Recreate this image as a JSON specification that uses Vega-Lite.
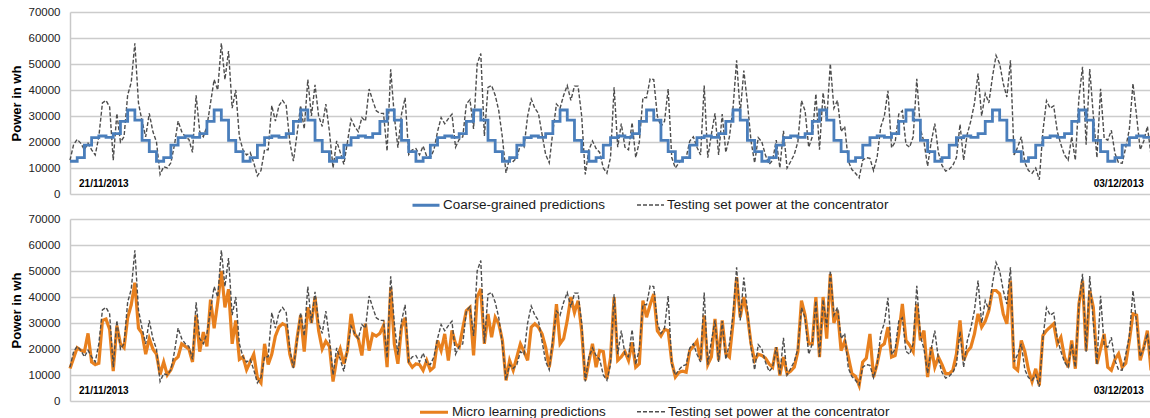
{
  "$schema": "https://vega.github.io/schema/vega-lite/v6.json",
  "padding": {"left": 10, "top": 6, "right": 0, "bottom": 0},
  "bounds": "flush",
  "spacing": 25,
  "background": "white",
  "config": {
    "view": {"stroke": null},
    "font": "Liberation Sans",
    "axisY": {
      "titleFontSize": 13, "titleFontWeight": "bold", "titleColor": "#000000", "titlePadding": 5,
      "labelFontSize": 11.5, "labelColor": "#222222", "labelPadding": 10, "ticks": false,
      "domain": true, "domainColor": "#c8c8c8", "domainWidth": 1.5,
      "grid": true, "gridColor": "#cccccc", "gridWidth": 1.4,
      "values": [0, 10000, 20000, 30000, 40000, 50000, 60000, 70000], "format": "d"
    }
  },
  "datasets": {
    "power": [
      {"t":0,"test":13000,"coarse":12600,"micro":12500},
      {"t":1,"test":19000,"coarse":12600,"micro":16500},
      {"t":2,"test":21000,"coarse":14000,"micro":20500},
      {"t":3,"test":19500,"coarse":14000,"micro":19500},
      {"t":4,"test":17000,"coarse":18800,"micro":19000},
      {"t":5,"test":19500,"coarse":18800,"micro":26000},
      {"t":6,"test":17000,"coarse":21700,"micro":15000},
      {"t":7,"test":15000,"coarse":21700,"micro":14000},
      {"t":8,"test":22000,"coarse":22300,"micro":14500},
      {"t":9,"test":35000,"coarse":22300,"micro":31000},
      {"t":10,"test":36000,"coarse":21800,"micro":31500},
      {"t":11,"test":33500,"coarse":21800,"micro":27500},
      {"t":12,"test":13000,"coarse":23200,"micro":11500},
      {"t":13,"test":31000,"coarse":23200,"micro":29000},
      {"t":14,"test":20000,"coarse":27900,"micro":22000},
      {"t":15,"test":22000,"coarse":27900,"micro":20500},
      {"t":16,"test":38000,"coarse":32300,"micro":32000},
      {"t":17,"test":43000,"coarse":32300,"micro":37000},
      {"t":18,"test":58000,"coarse":28400,"micro":45500},
      {"t":19,"test":35000,"coarse":28400,"micro":28000},
      {"t":20,"test":28000,"coarse":20600,"micro":26000},
      {"t":21,"test":22000,"coarse":20600,"micro":18000},
      {"t":22,"test":31000,"coarse":16300,"micro":24000},
      {"t":23,"test":24000,"coarse":16300,"micro":20000},
      {"t":24,"test":20000,"coarse":12600,"micro":18000},
      {"t":25,"test":7500,"coarse":12600,"micro":10200},
      {"t":26,"test":10500,"coarse":14000,"micro":15000},
      {"t":27,"test":10000,"coarse":14000,"micro":10000},
      {"t":28,"test":12000,"coarse":18800,"micro":12000},
      {"t":29,"test":19000,"coarse":18800,"micro":15700},
      {"t":30,"test":28000,"coarse":21700,"micro":17000},
      {"t":31,"test":24000,"coarse":21700,"micro":22000},
      {"t":32,"test":22000,"coarse":22300,"micro":21000},
      {"t":33,"test":21000,"coarse":22300,"micro":20000},
      {"t":34,"test":16000,"coarse":21800,"micro":15000},
      {"t":35,"test":38000,"coarse":21800,"micro":33000},
      {"t":36,"test":24000,"coarse":23200,"micro":19000},
      {"t":37,"test":22000,"coarse":23200,"micro":26500},
      {"t":38,"test":26000,"coarse":27900,"micro":21000},
      {"t":39,"test":35000,"coarse":27900,"micro":39000},
      {"t":40,"test":44000,"coarse":32300,"micro":28000},
      {"t":41,"test":40000,"coarse":32300,"micro":38000},
      {"t":42,"test":58000,"coarse":28400,"micro":50000},
      {"t":43,"test":44000,"coarse":28400,"micro":36000},
      {"t":44,"test":55000,"coarse":20600,"micro":43000},
      {"t":45,"test":33000,"coarse":20600,"micro":22000},
      {"t":46,"test":40000,"coarse":16300,"micro":31000},
      {"t":47,"test":22000,"coarse":16300,"micro":16000},
      {"t":48,"test":17000,"coarse":12600,"micro":17000},
      {"t":49,"test":15000,"coarse":12600,"micro":12000},
      {"t":50,"test":16000,"coarse":14000,"micro":15000},
      {"t":51,"test":12000,"coarse":14000,"micro":18000},
      {"t":52,"test":7000,"coarse":18800,"micro":9000},
      {"t":53,"test":9000,"coarse":18800,"micro":7000},
      {"t":54,"test":17000,"coarse":21700,"micro":22000},
      {"t":55,"test":17000,"coarse":21700,"micro":14000},
      {"t":56,"test":34000,"coarse":22300,"micro":18000},
      {"t":57,"test":28000,"coarse":22300,"micro":25000},
      {"t":58,"test":34000,"coarse":21800,"micro":28500},
      {"t":59,"test":36000,"coarse":21800,"micro":29700},
      {"t":60,"test":34000,"coarse":23200,"micro":29000},
      {"t":61,"test":20000,"coarse":23200,"micro":18000},
      {"t":62,"test":12600,"coarse":27900,"micro":13000},
      {"t":63,"test":23000,"coarse":27900,"micro":24000},
      {"t":64,"test":34000,"coarse":32300,"micro":33000},
      {"t":65,"test":25000,"coarse":32300,"micro":19000},
      {"t":66,"test":44000,"coarse":28400,"micro":36000},
      {"t":67,"test":30000,"coarse":28400,"micro":30000},
      {"t":68,"test":42000,"coarse":20600,"micro":40000},
      {"t":69,"test":30000,"coarse":20600,"micro":27000},
      {"t":70,"test":26000,"coarse":16300,"micro":20000},
      {"t":71,"test":34600,"coarse":16300,"micro":23000},
      {"t":72,"test":24000,"coarse":12600,"micro":21000},
      {"t":73,"test":10000,"coarse":12600,"micro":7500},
      {"t":74,"test":20400,"coarse":14000,"micro":16000},
      {"t":75,"test":16000,"coarse":14000,"micro":20000},
      {"t":76,"test":11400,"coarse":18800,"micro":14300},
      {"t":77,"test":20000,"coarse":18800,"micro":19400},
      {"t":78,"test":28800,"coarse":21700,"micro":33500},
      {"t":79,"test":26000,"coarse":21700,"micro":25800},
      {"t":80,"test":24000,"coarse":22300,"micro":24000},
      {"t":81,"test":29400,"coarse":22300,"micro":17500},
      {"t":82,"test":28000,"coarse":21800,"micro":29700},
      {"t":83,"test":40400,"coarse":21800,"micro":19400},
      {"t":84,"test":36000,"coarse":23200,"micro":25800},
      {"t":85,"test":32000,"coarse":23200,"micro":25000},
      {"t":86,"test":31000,"coarse":27900,"micro":26000},
      {"t":87,"test":31000,"coarse":27900,"micro":29000},
      {"t":88,"test":16500,"coarse":32300,"micro":13000},
      {"t":89,"test":48000,"coarse":32300,"micro":43700},
      {"t":90,"test":30000,"coarse":28400,"micro":22000},
      {"t":91,"test":17800,"coarse":28400,"micro":14300},
      {"t":92,"test":30700,"coarse":20600,"micro":28400},
      {"t":93,"test":37000,"coarse":20600,"micro":32000},
      {"t":94,"test":15200,"coarse":16300,"micro":15000},
      {"t":95,"test":17000,"coarse":16300,"micro":13000},
      {"t":96,"test":17500,"coarse":12600,"micro":14300},
      {"t":97,"test":15000,"coarse":12600,"micro":14000},
      {"t":98,"test":18400,"coarse":14000,"micro":11800},
      {"t":99,"test":14500,"coarse":14000,"micro":15600},
      {"t":100,"test":14000,"coarse":18800,"micro":11800},
      {"t":101,"test":17000,"coarse":18800,"micro":13000},
      {"t":102,"test":24000,"coarse":21700,"micro":23300},
      {"t":103,"test":29400,"coarse":21700,"micro":19400},
      {"t":104,"test":27000,"coarse":22300,"micro":25800},
      {"t":105,"test":29000,"coarse":22300,"micro":15600},
      {"t":106,"test":30700,"coarse":21800,"micro":27100},
      {"t":107,"test":18000,"coarse":21800,"micro":22000},
      {"t":108,"test":21000,"coarse":23200,"micro":20700},
      {"t":109,"test":22000,"coarse":23200,"micro":28000},
      {"t":110,"test":34600,"coarse":27900,"micro":34800},
      {"t":111,"test":36300,"coarse":27900,"micro":36000},
      {"t":112,"test":25000,"coarse":32300,"micro":17500},
      {"t":113,"test":50000,"coarse":32300,"micro":40000},
      {"t":114,"test":54000,"coarse":28400,"micro":43100},
      {"t":115,"test":22300,"coarse":28400,"micro":22000},
      {"t":116,"test":41000,"coarse":20600,"micro":33500},
      {"t":117,"test":41700,"coarse":20600,"micro":24500},
      {"t":118,"test":38000,"coarse":16300,"micro":32200},
      {"t":119,"test":32000,"coarse":16300,"micro":29700},
      {"t":120,"test":21700,"coarse":12600,"micro":23300},
      {"t":121,"test":8100,"coarse":12600,"micro":7900},
      {"t":122,"test":14000,"coarse":14000,"micro":15600},
      {"t":123,"test":12500,"coarse":14000,"micro":11800},
      {"t":124,"test":14000,"coarse":18800,"micro":16900},
      {"t":125,"test":19000,"coarse":18800,"micro":22000},
      {"t":126,"test":18000,"coarse":21700,"micro":19000},
      {"t":127,"test":30000,"coarse":21700,"micro":15600},
      {"t":128,"test":36500,"coarse":22300,"micro":28400},
      {"t":129,"test":33000,"coarse":22300,"micro":29700},
      {"t":130,"test":31000,"coarse":21800,"micro":28400},
      {"t":131,"test":23000,"coarse":21800,"micro":25800},
      {"t":132,"test":15200,"coarse":23200,"micro":20700},
      {"t":133,"test":12000,"coarse":23200,"micro":13000},
      {"t":134,"test":24000,"coarse":27900,"micro":22000},
      {"t":135,"test":34600,"coarse":27900,"micro":37300},
      {"t":136,"test":33000,"coarse":32300,"micro":22000},
      {"t":137,"test":38000,"coarse":32300,"micro":24000},
      {"t":138,"test":41700,"coarse":28400,"micro":31000},
      {"t":139,"test":36000,"coarse":28400,"micro":40000},
      {"t":140,"test":41500,"coarse":20600,"micro":34000},
      {"t":141,"test":41500,"coarse":20600,"micro":38600},
      {"t":142,"test":30000,"coarse":16300,"micro":27000},
      {"t":143,"test":7500,"coarse":16300,"micro":8000},
      {"t":144,"test":17000,"coarse":12600,"micro":15000},
      {"t":145,"test":20400,"coarse":12600,"micro":22000},
      {"t":146,"test":17500,"coarse":14000,"micro":13000},
      {"t":147,"test":16000,"coarse":14000,"micro":19400},
      {"t":148,"test":10000,"coarse":18800,"micro":19000},
      {"t":149,"test":8000,"coarse":18800,"micro":8600},
      {"t":150,"test":14000,"coarse":21700,"micro":16500},
      {"t":151,"test":41000,"coarse":21700,"micro":40000},
      {"t":152,"test":18000,"coarse":22300,"micro":15600},
      {"t":153,"test":27100,"coarse":22300,"micro":17000},
      {"t":154,"test":18000,"coarse":21800,"micro":19000},
      {"t":155,"test":17000,"coarse":21800,"micro":15600},
      {"t":156,"test":27500,"coarse":23200,"micro":22600},
      {"t":157,"test":14000,"coarse":23200,"micro":13000},
      {"t":158,"test":20000,"coarse":27900,"micro":14300},
      {"t":159,"test":37100,"coarse":27900,"micro":38600},
      {"t":160,"test":37000,"coarse":32300,"micro":32200},
      {"t":161,"test":44300,"coarse":32300,"micro":37000},
      {"t":162,"test":44000,"coarse":28400,"micro":41200},
      {"t":163,"test":30000,"coarse":28400,"micro":27000},
      {"t":164,"test":26000,"coarse":20600,"micro":25000},
      {"t":165,"test":28000,"coarse":20600,"micro":27500},
      {"t":166,"test":40400,"coarse":16300,"micro":27100},
      {"t":167,"test":14000,"coarse":16300,"micro":15000},
      {"t":168,"test":10000,"coarse":12600,"micro":9200},
      {"t":169,"test":12000,"coarse":12600,"micro":11000},
      {"t":170,"test":13500,"coarse":14000,"micro":11500},
      {"t":171,"test":14000,"coarse":14000,"micro":11100},
      {"t":172,"test":20400,"coarse":18800,"micro":19400},
      {"t":173,"test":22000,"coarse":18800,"micro":21000},
      {"t":174,"test":18000,"coarse":21700,"micro":23000},
      {"t":175,"test":15000,"coarse":21700,"micro":15600},
      {"t":176,"test":41700,"coarse":22300,"micro":32900},
      {"t":177,"test":14000,"coarse":22300,"micro":14000},
      {"t":178,"test":23000,"coarse":21800,"micro":17000},
      {"t":179,"test":31000,"coarse":21800,"micro":31600},
      {"t":180,"test":15000,"coarse":23200,"micro":15600},
      {"t":181,"test":30700,"coarse":23200,"micro":31000},
      {"t":182,"test":16000,"coarse":27900,"micro":18200},
      {"t":183,"test":22000,"coarse":27900,"micro":16900},
      {"t":184,"test":33000,"coarse":32300,"micro":30000},
      {"t":185,"test":51400,"coarse":32300,"micro":47600},
      {"t":186,"test":31000,"coarse":28400,"micro":32200},
      {"t":187,"test":47500,"coarse":28400,"micro":40000},
      {"t":188,"test":35000,"coarse":20600,"micro":33000},
      {"t":189,"test":20400,"coarse":20600,"micro":22000},
      {"t":190,"test":12000,"coarse":16300,"micro":15600},
      {"t":191,"test":21700,"coarse":16300,"micro":18000},
      {"t":192,"test":20000,"coarse":12600,"micro":17500},
      {"t":193,"test":15000,"coarse":12600,"micro":16500},
      {"t":194,"test":11400,"coarse":14000,"micro":14300},
      {"t":195,"test":13000,"coarse":14000,"micro":13000},
      {"t":196,"test":20700,"coarse":18800,"micro":20700},
      {"t":197,"test":10000,"coarse":18800,"micro":9800},
      {"t":198,"test":24300,"coarse":21700,"micro":16900},
      {"t":199,"test":10000,"coarse":21700,"micro":10500},
      {"t":200,"test":12500,"coarse":22300,"micro":11500},
      {"t":201,"test":15200,"coarse":22300,"micro":13000},
      {"t":202,"test":20000,"coarse":21800,"micro":19000},
      {"t":203,"test":35900,"coarse":21800,"micro":38600},
      {"t":204,"test":32000,"coarse":23200,"micro":33000},
      {"t":205,"test":18000,"coarse":23200,"micro":22000},
      {"t":206,"test":22000,"coarse":27900,"micro":22000},
      {"t":207,"test":38500,"coarse":27900,"micro":40000},
      {"t":208,"test":17000,"coarse":32300,"micro":16900},
      {"t":209,"test":39000,"coarse":32300,"micro":40000},
      {"t":210,"test":28400,"coarse":28400,"micro":24000},
      {"t":211,"test":50100,"coarse":28400,"micro":48800},
      {"t":212,"test":33000,"coarse":20600,"micro":30000},
      {"t":213,"test":36000,"coarse":20600,"micro":34800},
      {"t":214,"test":24000,"coarse":16300,"micro":19400},
      {"t":215,"test":26000,"coarse":16300,"micro":23000},
      {"t":216,"test":12600,"coarse":12600,"micro":17000},
      {"t":217,"test":9400,"coarse":12600,"micro":10500},
      {"t":218,"test":8000,"coarse":14000,"micro":9500},
      {"t":219,"test":6200,"coarse":14000,"micro":6000},
      {"t":220,"test":13000,"coarse":18800,"micro":15000},
      {"t":221,"test":14000,"coarse":18800,"micro":16500},
      {"t":222,"test":13700,"coarse":21700,"micro":25800},
      {"t":223,"test":9000,"coarse":21700,"micro":9200},
      {"t":224,"test":14300,"coarse":22300,"micro":14300},
      {"t":225,"test":25800,"coarse":22300,"micro":21000},
      {"t":226,"test":30000,"coarse":21800,"micro":22000},
      {"t":227,"test":39700,"coarse":21800,"micro":28400},
      {"t":228,"test":17800,"coarse":23200,"micro":16900},
      {"t":229,"test":20000,"coarse":23200,"micro":17500},
      {"t":230,"test":30700,"coarse":27900,"micro":25800},
      {"t":231,"test":32000,"coarse":27900,"micro":37300},
      {"t":232,"test":19100,"coarse":32300,"micro":23300},
      {"t":233,"test":18000,"coarse":32300,"micro":21500},
      {"t":234,"test":22000,"coarse":28400,"micro":19000},
      {"t":235,"test":44300,"coarse":28400,"micro":37300},
      {"t":236,"test":25000,"coarse":20600,"micro":23300},
      {"t":237,"test":20000,"coarse":20600,"micro":27100},
      {"t":238,"test":10700,"coarse":16300,"micro":9200},
      {"t":239,"test":20000,"coarse":16300,"micro":20700},
      {"t":240,"test":27100,"coarse":12600,"micro":13000},
      {"t":241,"test":16000,"coarse":12600,"micro":16900},
      {"t":242,"test":11000,"coarse":14000,"micro":14000},
      {"t":243,"test":8800,"coarse":14000,"micro":10500},
      {"t":244,"test":9500,"coarse":18800,"micro":10500},
      {"t":245,"test":11000,"coarse":18800,"micro":11800},
      {"t":246,"test":14000,"coarse":21700,"micro":18000},
      {"t":247,"test":26800,"coarse":21700,"micro":31000},
      {"t":248,"test":13000,"coarse":22300,"micro":15600},
      {"t":249,"test":23000,"coarse":22300,"micro":19000},
      {"t":250,"test":28100,"coarse":21800,"micro":20700},
      {"t":251,"test":34800,"coarse":21800,"micro":25800},
      {"t":252,"test":46300,"coarse":23200,"micro":33500},
      {"t":253,"test":30000,"coarse":23200,"micro":28400},
      {"t":254,"test":38600,"coarse":27900,"micro":30700},
      {"t":255,"test":35000,"coarse":27900,"micro":34800},
      {"t":256,"test":45000,"coarse":32300,"micro":42500},
      {"t":257,"test":53300,"coarse":32300,"micro":42500},
      {"t":258,"test":50100,"coarse":28400,"micro":41200},
      {"t":259,"test":42500,"coarse":28400,"micro":33500},
      {"t":260,"test":37300,"coarse":20600,"micro":29700},
      {"t":261,"test":51400,"coarse":20600,"micro":46300},
      {"t":262,"test":15000,"coarse":16300,"micro":13000},
      {"t":263,"test":18000,"coarse":16300,"micro":11800},
      {"t":264,"test":22000,"coarse":12600,"micro":23300},
      {"t":265,"test":12000,"coarse":12600,"micro":19000},
      {"t":266,"test":9000,"coarse":14000,"micro":12000},
      {"t":267,"test":8000,"coarse":14000,"micro":7500},
      {"t":268,"test":10000,"coarse":18800,"micro":12400},
      {"t":269,"test":5500,"coarse":18800,"micro":6000},
      {"t":270,"test":24000,"coarse":21700,"micro":25200},
      {"t":271,"test":35900,"coarse":21700,"micro":27100},
      {"t":272,"test":33000,"coarse":22300,"micro":28400},
      {"t":273,"test":33900,"coarse":22300,"micro":29700},
      {"t":274,"test":24000,"coarse":21800,"micro":22000},
      {"t":275,"test":19000,"coarse":21800,"micro":24500},
      {"t":276,"test":15000,"coarse":23200,"micro":16900},
      {"t":277,"test":13000,"coarse":23200,"micro":13000},
      {"t":278,"test":22000,"coarse":27900,"micro":23300},
      {"t":279,"test":13000,"coarse":27900,"micro":12400},
      {"t":280,"test":37000,"coarse":32300,"micro":37300},
      {"t":281,"test":48900,"coarse":32300,"micro":46300},
      {"t":282,"test":19000,"coarse":28400,"micro":19400},
      {"t":283,"test":48100,"coarse":28400,"micro":42500},
      {"t":284,"test":30000,"coarse":20600,"micro":36000},
      {"t":285,"test":14000,"coarse":20600,"micro":14300},
      {"t":286,"test":40500,"coarse":16300,"micro":20000},
      {"t":287,"test":21500,"coarse":16300,"micro":25800},
      {"t":288,"test":20700,"coarse":12600,"micro":13000},
      {"t":289,"test":24500,"coarse":12600,"micro":11800},
      {"t":290,"test":15600,"coarse":14000,"micro":16000},
      {"t":291,"test":12000,"coarse":14000,"micro":18200},
      {"t":292,"test":11800,"coarse":18800,"micro":13000},
      {"t":293,"test":18000,"coarse":18800,"micro":14500},
      {"t":294,"test":25000,"coarse":21700,"micro":23300},
      {"t":295,"test":42500,"coarse":21700,"micro":33500},
      {"t":296,"test":30000,"coarse":22300,"micro":33000},
      {"t":297,"test":17000,"coarse":22300,"micro":15600},
      {"t":298,"test":20400,"coarse":21800,"micro":20700},
      {"t":299,"test":26000,"coarse":21800,"micro":27100},
      {"t":300,"test":15000,"coarse":21800,"micro":11800}
    ]
  },
  "resolve": {
    "scale": {"x": "independent", "y": "independent", "color": "independent", "strokeDash": "independent", "strokeWidth": "independent"},
    "legend": {"color": "independent", "strokeDash": "independent", "strokeWidth": "independent"}
  },
  "vconcat": [
    {
      "width": 1081,
      "height": 182,
      "layer": [
        {
          "data": {"name": "power"},
          "transform": [{"fold": ["test"], "as": ["series", "value"]}],
          "mark": {"type": "line", "interpolate": "linear"},
          "encoding": {
            "x": {"field": "t", "type": "quantitative", "scale": {"domain": [0, 300], "nice": false, "zero": false}, "axis": null},
            "y": {"field": "value", "type": "quantitative", "scale": {"domain": [0, 70000], "nice": false}, "axis": {"title": "Power in wh"}},
            "color": {"field": "series", "type": "ordinal", "scale": {"domain": ["coarse", "test"], "range": ["#4a7ebb", "#4d4d4d"]},
              "legend": {"orient": "none", "legendX": 341, "legendY": 178, "direction": "horizontal", "title": null, "symbolType": "stroke", "symbolSize": 729, "labelFontSize": 13.5, "labelColor": "#1a1a1a", "labelLimit": 400, "columnPadding": 28, "labelOffset": 2, "padding": 0,
                "labelExpr": "datum.label == 'coarse' ? 'Coarse-grained predictions' : 'Testing set power at the concentrator'"}},
            "strokeDash": {"field": "series", "type": "ordinal", "scale": {"domain": ["coarse", "test"], "range": [[1, 0], [4, 2]]},
              "legend": {"orient": "none", "legendX": 341, "legendY": 178, "direction": "horizontal", "title": null, "symbolType": "stroke", "symbolSize": 729, "labelFontSize": 13.5, "labelColor": "#1a1a1a", "labelLimit": 400, "columnPadding": 28, "labelOffset": 2, "padding": 0,
                "labelExpr": "datum.label == 'coarse' ? 'Coarse-grained predictions' : 'Testing set power at the concentrator'"}},
            "strokeWidth": {"field": "series", "type": "ordinal", "scale": {"domain": ["coarse", "test"], "range": [2.8, 1.4]},
              "legend": {"orient": "none", "legendX": 341, "legendY": 178, "direction": "horizontal", "title": null, "symbolType": "stroke", "symbolSize": 729, "labelFontSize": 13.5, "labelColor": "#1a1a1a", "labelLimit": 400, "columnPadding": 28, "labelOffset": 2, "padding": 0,
                "labelExpr": "datum.label == 'coarse' ? 'Coarse-grained predictions' : 'Testing set power at the concentrator'"}}
          }
        },
        {
          "data": {"name": "power"},
          "transform": [{"fold": ["coarse"], "as": ["series", "value"]}],
          "mark": {"type": "line", "interpolate": "step-after"},
          "encoding": {
            "x": {"field": "t", "type": "quantitative"},
            "y": {"field": "value", "type": "quantitative"},
            "color": {"field": "series", "type": "ordinal"},
            "strokeDash": {"field": "series", "type": "ordinal"},
            "strokeWidth": {"field": "series", "type": "ordinal"}
          }
        },
        {
          "data": {"values": [{"label": "21/11/2013"}]},
          "mark": {"type": "text", "align": "left", "baseline": "middle", "fontWeight": "bold", "fontSize": 10, "color": "#000000"},
          "encoding": {
            "x": {"datum": 2.5, "type": "quantitative"},
            "y": {"datum": 3800, "type": "quantitative"},
            "text": {"field": "label"}
          }
        },
        {
          "data": {"values": [{"label": "03/12/2013"}]},
          "mark": {"type": "text", "align": "right", "baseline": "middle", "fontWeight": "bold", "fontSize": 10, "color": "#000000"},
          "encoding": {
            "x": {"datum": 298, "type": "quantitative"},
            "y": {"datum": 3800, "type": "quantitative"},
            "text": {"field": "label"}
          }
        }
      ]
    },
    {
      "width": 1081,
      "height": 182,
      "layer": [
        {
          "data": {"name": "power"},
          "transform": [{"fold": ["micro"], "as": ["series", "value"]}],
          "mark": {"type": "line", "interpolate": "linear"},
          "encoding": {
            "x": {"field": "t", "type": "quantitative", "scale": {"domain": [0, 300], "nice": false, "zero": false}, "axis": null},
            "y": {"field": "value", "type": "quantitative", "scale": {"domain": [0, 70000], "nice": false}, "axis": {"title": "Power in wh"}},
            "color": {"field": "series", "type": "ordinal", "scale": {"domain": ["micro", "test"], "range": ["#e8801e", "#4d4d4d"]},
              "legend": {"orient": "none", "legendX": 348, "legendY": 177, "direction": "horizontal", "title": null, "symbolType": "stroke", "symbolSize": 784, "labelFontSize": 13.5, "labelColor": "#1a1a1a", "labelLimit": 400, "columnPadding": 28, "labelOffset": 2, "padding": 0,
                "labelExpr": "datum.label == 'micro' ? 'Micro learning predictions' : 'Testing set power at the concentrator'"}},
            "strokeDash": {"field": "series", "type": "ordinal", "scale": {"domain": ["micro", "test"], "range": [[1, 0], [4, 2]]},
              "legend": {"orient": "none", "legendX": 348, "legendY": 177, "direction": "horizontal", "title": null, "symbolType": "stroke", "symbolSize": 784, "labelFontSize": 13.5, "labelColor": "#1a1a1a", "labelLimit": 400, "columnPadding": 28, "labelOffset": 2, "padding": 0,
                "labelExpr": "datum.label == 'micro' ? 'Micro learning predictions' : 'Testing set power at the concentrator'"}},
            "strokeWidth": {"field": "series", "type": "ordinal", "scale": {"domain": ["micro", "test"], "range": [3.2, 1.4]},
              "legend": {"orient": "none", "legendX": 348, "legendY": 177, "direction": "horizontal", "title": null, "symbolType": "stroke", "symbolSize": 784, "labelFontSize": 13.5, "labelColor": "#1a1a1a", "labelLimit": 400, "columnPadding": 28, "labelOffset": 2, "padding": 0,
                "labelExpr": "datum.label == 'micro' ? 'Micro learning predictions' : 'Testing set power at the concentrator'"}}
          }
        },
        {
          "data": {"name": "power"},
          "transform": [{"fold": ["test"], "as": ["series", "value"]}],
          "mark": {"type": "line", "interpolate": "linear"},
          "encoding": {
            "x": {"field": "t", "type": "quantitative"},
            "y": {"field": "value", "type": "quantitative"},
            "color": {"field": "series", "type": "ordinal"},
            "strokeDash": {"field": "series", "type": "ordinal"},
            "strokeWidth": {"field": "series", "type": "ordinal"}
          }
        },
        {
          "data": {"values": [{"label": "21/11/2013"}]},
          "mark": {"type": "text", "align": "left", "baseline": "middle", "fontWeight": "bold", "fontSize": 10, "color": "#000000"},
          "encoding": {
            "x": {"datum": 2.5, "type": "quantitative"},
            "y": {"datum": 3800, "type": "quantitative"},
            "text": {"field": "label"}
          }
        },
        {
          "data": {"values": [{"label": "03/12/2013"}]},
          "mark": {"type": "text", "align": "right", "baseline": "middle", "fontWeight": "bold", "fontSize": 10, "color": "#000000"},
          "encoding": {
            "x": {"datum": 298, "type": "quantitative"},
            "y": {"datum": 3800, "type": "quantitative"},
            "text": {"field": "label"}
          }
        }
      ]
    }
  ]
}
